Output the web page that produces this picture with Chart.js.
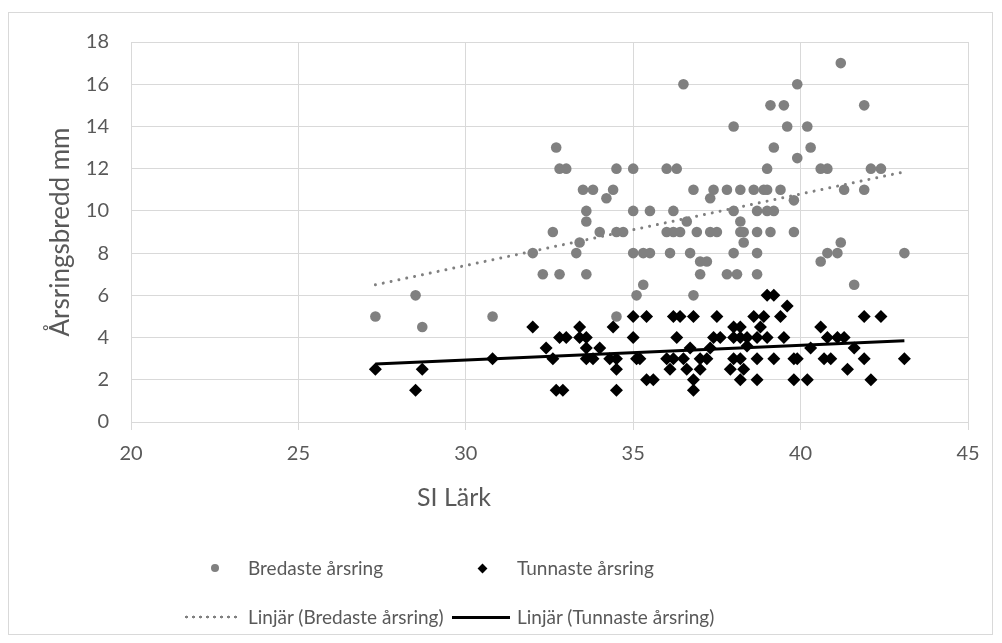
<!DOCTYPE html>
<html lang="sv">
<head>
<meta charset="UTF-8">
<title>Årsringsbredd mot SI Lärk</title>
<script src="https://cdn.jsdelivr.net/npm/chart.js@4.4.1/dist/chart.umd.min.js"></script>
<style>
  html, body { margin: 0; padding: 0; background: #fff; }
  #wrap { position: relative; width: 1002px; height: 643px; font-family: Lato, "Open Sans", sans-serif; color: #595959; }
  #frame { position: absolute; left: 8px; top: 12px; width: 985px; height: 623px; border: 1px solid #d9d9d9; box-sizing: border-box; pointer-events: none; }
  .lg-text { position: absolute; font-size: 19px; line-height: 24px; transform: translateY(-50%); white-space: nowrap; }
  .lg-mark { position: absolute; }
  #xtitle { position: absolute; left: 454px; top: 496px; font-size: 25px; line-height: 30px; transform: translate(-50%, -50%); white-space: nowrap; }
</style>
</head>
<body>
<div id="wrap">
  <canvas id="chart" width="1002" height="643"></canvas>
  <div id="frame"></div>
  <span id="xtitle">SI Lärk</span>

  <!-- legend, two rows in two columns -->
  <div class="lg-mark" style="left:211px; top:564px; width:8px; height:8px; border-radius:50%; background:#808080;"></div>
  <span class="lg-text" style="left:248px; top:568px;">Bredaste årsring</span>
  <div class="lg-mark" style="left:479px; top:565px; width:7px; height:7px; background:#000; transform:rotate(45deg);"></div>
  <span class="lg-text" style="left:517px; top:568px;">Tunnaste årsring</span>

  <div class="lg-mark" style="left:183px; top:615px; width:58px; height:4px; background: radial-gradient(circle, #808080 1.2px, transparent 1.7px) 0 0 / 7px 4px repeat-x;"></div>
  <span class="lg-text" style="left:248px; top:617px;">Linjär (Bredaste årsring)</span>
  <div class="lg-mark" style="left:452px; top:616px; width:58px; height:3px; background:#000;"></div>
  <span class="lg-text" style="left:517px; top:617px;">Linjär (Tunnaste årsring)</span>
</div>

<script>
// SI Lärk (x) vs årsringsbredd i mm (y)
const bredaste = [
  [27.3,5],[28.5,6],[28.7,4.5],[30.8,5],[32.0,8],[32.3,7],[32.6,9],[32.7,13],[32.8,12],[32.8,7],
  [33.0,12],[33.3,8],[33.4,8.5],[33.5,11],[33.6,10],[33.6,9.5],[33.6,7],[33.8,11],[34.0,9],[34.2,10.6],
  [34.4,11],[34.5,12],[34.5,9],[34.5,5],[34.7,9],[35.0,12],[35.0,10],[35.0,8],[35.1,6],[35.3,8],
  [35.3,6.5],[35.5,10],[35.5,8],[36.0,12],[36.0,9],[36.1,8],[36.2,10],[36.2,9],[36.3,12],[36.4,9],
  [36.5,16],[36.6,9.5],[36.7,8],[36.8,11],[36.8,6],[36.9,9],[37.0,7.6],[37.0,7],[37.2,7.6],[37.3,10.6],
  [37.3,9],[37.4,11],[37.5,9],[37.8,11],[37.8,7],[38.0,14],[38.0,10],[38.0,8],[38.1,7],[38.2,11],
  [38.2,9.5],[38.2,9],[38.3,9],[38.3,8.5],[38.6,11],[38.7,10],[38.7,9],[38.7,8],[38.7,7],[38.9,11],
  [39.0,11],[39.0,12],[39.0,10],[39.1,15],[39.1,9],[39.2,13],[39.2,10],[39.4,11],[39.5,15],[39.6,14],
  [39.8,10.5],[39.8,9],[39.9,16],[39.9,12.5],[40.2,14],[40.3,13],[40.6,12],[40.6,7.6],[40.8,12],[40.8,8],
  [41.1,8],[41.2,17],[41.2,8.5],[41.3,11],[41.6,6.5],[41.9,15],[41.9,11],[42.1,12],[42.4,12],[43.1,8]
];

const tunnaste = [
  [27.3,2.5],[28.5,1.5],[28.7,2.5],[30.8,3],[32.0,4.5],[32.4,3.5],[32.6,3],[32.7,1.5],[32.9,1.5],[32.8,4],
  [33.0,4],[33.4,4.5],[33.4,4],[33.6,4],[33.6,3.5],[33.6,3],[33.8,3],[34.0,3.5],[34.3,3],[34.5,3],
  [34.4,4.5],[34.5,2.5],[34.5,1.5],[35.0,5],[35.4,5],[35.0,4],[35.1,3],[35.2,3],[35.4,2],[35.6,2],
  [36.2,5],[36.4,5],[36.8,5],[36.3,4],[36.0,3],[36.2,3],[36.5,3],[36.1,2.5],[36.6,2.5],[36.7,3.5],
  [36.8,2],[36.8,1.5],[37.0,2.5],[37.0,3],[37.2,3],[37.3,3.5],[37.4,4],[37.6,4],[37.5,5],[37.9,2.5],
  [38.0,4.5],[38.2,4.5],[38.0,4],[38.2,4],[38.4,4],[38.0,3],[38.2,3],[38.3,2.5],[38.2,2],[38.4,3.6],
  [38.6,5],[38.9,5],[38.8,4.5],[38.7,4],[39.0,4],[38.7,3],[38.7,2],[39.0,6],[39.2,6],[39.2,3],
  [39.4,5],[39.5,4],[39.6,5.5],[39.8,3],[39.9,3],[39.8,2],[40.2,2],[40.3,3.5],[40.6,4.5],[40.8,4],
  [40.7,3],[40.9,3],[41.1,4],[41.3,4],[41.4,2.5],[41.6,3.5],[41.9,5],[42.4,5],[41.9,3],[42.1,2],
  [43.1,3]
];

// linjära trendlinjer, ändpunkter
const trendX = [27.3, 43.1];
const trendBredaste = [6.5, 11.85];
const trendTunnaste = [2.75, 3.85];

const toPts = (arr) => arr.map(([x, y]) => ({ x: x, y: y }));
const trendPts = (ys) => trendX.map((x, i) => ({ x: x, y: ys[i] }));

const txt = "#595959";
const gridCol = "#d9d9d9";

new Chart(document.getElementById("chart"), {
  type: "scatter",
  data: {
    datasets: [
      {
        label: "Linjär (Bredaste årsring)",
        data: trendPts(trendBredaste),
        showLine: true,
        pointRadius: 0,
        borderColor: "#808080",
        borderWidth: 3,
        borderDash: [0.01, 8],
        borderCapStyle: "round",
        order: 0,
      },
      {
        label: "Linjär (Tunnaste årsring)",
        data: trendPts(trendTunnaste),
        showLine: true,
        pointRadius: 0,
        borderColor: "#000",
        borderWidth: 3,
        order: 0,
      },
      {
        label: "Tunnaste årsring",
        data: toPts(tunnaste),
        pointStyle: "rectRot",
        pointRadius: 6.5,
        backgroundColor: "#000",
        borderColor: "#000",
        borderWidth: 0,
        order: 1,
      },
      {
        label: "Bredaste årsring",
        data: toPts(bredaste),
        pointStyle: "circle",
        pointRadius: 5.3,
        backgroundColor: "#808080",
        borderColor: "#808080",
        borderWidth: 0,
        order: 2,
      },
    ],
  },
  options: {
    responsive: false,
    animation: false,
    devicePixelRatio: 1,
    layout: { padding: { left: 41, top: 42, right: 34, bottom: 130 } },
    plugins: { legend: { display: false }, tooltip: { enabled: false } },
    scales: {
      x: {
        type: "linear",
        min: 20,
        max: 45,
        ticks: { stepSize: 5, color: txt, padding: 12, font: { family: "Lato", size: 20 } },
        grid: { color: gridCol, lineWidth: 1, tickLength: 8, tickColor: gridCol },
        border: { color: gridCol },
        title: { display: false },
        afterFit: (s) => { s.height = 91; },
      },
      y: {
        min: 0,
        max: 18,
        ticks: { stepSize: 2, color: txt, padding: 22, font: { family: "Lato", size: 20 } },
        grid: { color: gridCol, lineWidth: 1, drawTicks: false },
        border: { color: gridCol },
        title: { display: true, text: "Årsringsbredd mm", color: txt, font: { family: "Lato", size: 26 }, padding: { top: 4, bottom: 4 } },
        afterFit: (s) => { s.width = 90; },
      },
    },
  },
});
</script>
</body>
</html>
